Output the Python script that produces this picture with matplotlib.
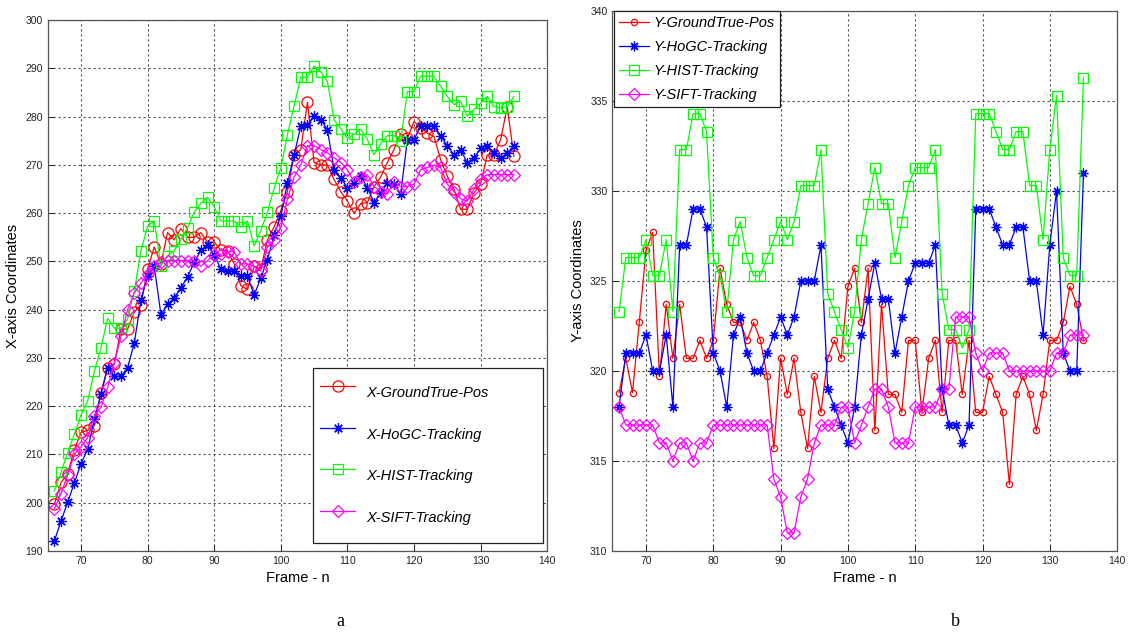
import matplotlib
matplotlib.use("Agg")
import matplotlib.pyplot as plt

plt.rcParams['font.family'] = ['Liberation Sans', 'DejaVu Sans']

frames = [66, 67, 68, 69, 70, 71, 72, 73, 74, 75, 76, 77, 78, 79, 80, 81, 82, 83, 84, 85,
          86, 87, 88, 89, 90, 91, 92, 93, 94, 95, 96, 97, 98, 99, 100, 101, 102, 103, 104, 105,
          106, 107, 108, 109, 110, 111, 112, 113, 114, 115, 116, 117, 118, 119, 120, 121, 122, 123, 124, 125,
          126, 127, 128, 129, 130, 131, 132, 133, 134, 135]

# ---- Panel a: X coordinates ----
x_ground = [199.7, 204.2, 206.0, 211.0, 214.6, 215.0, 216.0, 222.8, 228.0, 228.7,
            236.0, 236.0, 239.5, 241.0, 248.5, 253.0, 249.5, 256.0, 254.5, 256.8,
            255.0, 255.0, 256.0, 254.0, 254.0, 252.3, 252.2, 249.5, 245.0, 244.2,
            249.0, 248.5, 254.5, 257.2, 260.5, 264.5, 272.1, 273.2, 283.0, 270.5,
            270.0, 270.0, 267.0, 264.5, 262.5, 260.0, 262.0, 262.2, 265.5, 267.5,
            270.5, 273.2, 276.5, 275.5, 279.0, 277.7, 276.6, 275.9, 271.1, 267.7,
            265.0, 260.8, 260.8, 264.2, 266.0, 272.1, 272.1, 275.2, 282.0, 271.8]
x_hogc = [192.1, 196.2, 200.1, 204.1, 208.1, 211.1, 217.3, 222.5, 228.0, 226.2,
          226.2, 228.0, 233.1, 242.0, 247.0, 249.0, 239.0, 241.1, 242.5, 244.5,
          246.8, 249.8, 252.3, 253.4, 251.3, 248.5, 248.0, 248.0, 247.0, 247.0,
          243.0, 246.6, 250.4, 255.5, 259.4, 266.3, 272.1, 278.0, 278.2, 280.2,
          279.4, 277.3, 269.0, 267.3, 265.3, 266.3, 267.7, 265.3, 262.2, 264.2,
          266.3, 266.0, 264.0, 275.2, 275.2, 278.1, 278.1, 278.1, 276.0, 274.0,
          272.1, 273.2, 270.4, 271.4, 273.5, 274.0, 272.5, 271.4, 272.5, 274.0]
x_hist = [202.4, 206.3, 210.4, 214.2, 218.2, 221.1, 227.2, 232.1, 238.2, 236.2,
          236.2, 238.1, 243.8, 252.2, 257.3, 258.4, 249.1, 251.2, 252.2, 254.6,
          257.0, 260.2, 262.1, 263.3, 261.3, 258.4, 258.4, 258.4, 257.1, 258.4,
          253.2, 256.4, 260.2, 265.2, 269.4, 276.3, 282.3, 288.2, 288.2, 290.5,
          289.3, 287.3, 279.4, 277.5, 275.5, 276.4, 277.4, 275.3, 272.1, 274.4,
          276.1, 276.1, 274.9, 285.2, 285.2, 288.4, 288.4, 288.4, 286.3, 284.2,
          282.5, 283.2, 280.1, 281.5, 282.8, 284.2, 282.1, 281.8, 282.1, 284.2]
x_sift = [198.7, 201.9, 205.7, 210.1, 211.5, 213.5, 218.0, 219.8, 223.9, 229.0,
          234.5, 240.0, 243.5, 245.5, 247.5, 249.0, 249.8, 250.2, 250.2, 250.2,
          250.2, 250.2, 249.0, 250.2, 251.3, 251.5, 252.0, 252.0, 249.5, 249.5,
          249.0, 248.0, 253.0, 254.5, 257.0, 263.0, 267.5, 270.0, 274.0, 274.0,
          273.2, 272.5, 271.5, 270.5, 269.0, 266.5, 267.5, 268.0, 265.5, 264.5,
          264.0, 266.5, 265.5, 265.5, 266.0, 269.0, 269.5, 270.0, 269.5, 266.0,
          264.5, 263.0, 262.5, 265.0, 267.0, 268.0, 268.0, 268.0, 268.0, 268.0]

# ---- Panel b: Y coordinates ----
y_ground = [318.8, 320.7, 318.8, 322.7, 326.7, 327.7, 319.7, 323.7, 320.7, 323.7,
            320.7, 320.7, 321.7, 320.7, 321.7, 325.7, 323.7, 322.7, 322.7, 321.7,
            322.7, 321.7, 319.7, 315.7, 320.7, 318.7, 320.7, 317.7, 315.7, 319.7,
            317.7, 320.7, 321.7, 320.7, 324.7, 325.7, 322.7, 325.7, 316.7, 323.7,
            318.7, 318.7, 317.7, 321.7, 321.7, 317.7, 320.7, 321.7, 317.7, 321.7,
            321.7, 318.7, 321.7, 317.7, 317.7, 319.7, 318.7, 317.7, 313.7, 318.7,
            319.7, 318.7, 316.7, 318.7, 321.7, 321.7, 322.7, 324.7, 323.7, 321.7]
y_hogc = [318, 321, 321, 321, 322, 320, 320, 322, 318, 327,
          327, 329, 329, 328, 321, 320, 318, 322, 323, 321,
          320, 320, 321, 322, 323, 322, 323, 325, 325, 325,
          327, 319, 318, 317, 316, 318, 322, 324, 326, 324,
          324, 321, 323, 325, 326, 326, 326, 327, 319, 317,
          317, 316, 317, 329, 329, 329, 328, 327, 327, 328,
          328, 325, 325, 322, 327, 330, 321, 320, 320, 331]
y_hist = [323.3, 326.3, 326.3, 326.3, 327.3, 325.3, 325.3, 327.3, 323.3, 332.3,
          332.3, 334.3, 334.3, 333.3, 326.3, 325.3, 323.3, 327.3, 328.3, 326.3,
          325.3, 325.3, 326.3, 327.3, 328.3, 327.3, 328.3, 330.3, 330.3, 330.3,
          332.3, 324.3, 323.3, 322.3, 321.3, 323.3, 327.3, 329.3, 331.3, 329.3,
          329.3, 326.3, 328.3, 330.3, 331.3, 331.3, 331.3, 332.3, 324.3, 322.3,
          322.3, 321.3, 322.3, 334.3, 334.3, 334.3, 333.3, 332.3, 332.3, 333.3,
          333.3, 330.3, 330.3, 327.3, 332.3, 335.3, 326.3, 325.3, 325.3, 336.3]
y_sift = [318, 317, 317, 317, 317, 317, 316, 316, 315, 316,
          316, 315, 316, 316, 317, 317, 317, 317, 317, 317,
          317, 317, 317, 314, 313, 311, 311, 313, 314, 316,
          317, 317, 317, 318, 318, 316, 317, 318, 319, 319,
          318, 316, 316, 316, 318, 318, 318, 318, 319, 319,
          323, 323, 323, 321, 320, 321, 321, 321, 320, 320,
          320, 320, 320, 320, 320, 321, 321, 322, 322, 322]

labels_x = ['X-GroundTrue-Pos', 'X-HoGC-Tracking', 'X-HIST-Tracking', 'X-SIFT-Tracking']
labels_y = ['Y-GroundTrue-Pos', 'Y-HoGC-Tracking', 'Y-HIST-Tracking', 'Y-SIFT-Tracking']
colors = ['#ff0000', '#0000ff', '#00ff00', '#ff00ff']
star = (8, 2, 0)
markers = ['o', star, 's', 'D']

fig = plt.figure(figsize=(11.32, 6.35), dpi=100)
W, H = 1132.0, 635.0
axL = fig.add_axes([47.7 / W, 1 - 551 / H, 499.5 / W, 530.8 / H])
axR = fig.add_axes([612.35 / W, 1 - 551 / H, 504.75 / W, 540 / H])


def style_axes(ax):
    ax.grid(True, color='#222222', linestyle=(0, (2, 2.5)), linewidth=0.8, alpha=0.8)
    ax.set_axisbelow(True)
    for s in ax.spines.values():
        s.set_color('#555555')
        s.set_linewidth(0.9)
    ax.tick_params(direction='in', length=4, width=0.7, labelsize=7.5,
                   colors='#222222', top=False, right=False)
    ax.set_xlim(65, 140)
    ax.set_xticks([70, 80, 90, 100, 110, 120, 130, 140])
    ax.set_xlabel('Frame - n', fontsize=10.5, labelpad=4)


# Left panel
left_series = [x_ground, x_hogc, x_hist, x_sift]
left_ms = [8, 7.5, 7, 6]
handles = []
for vals, c, m, ms, lab in zip(left_series, colors, markers, left_ms, labels_x):
    ln, = axL.plot(frames, vals, color=c, marker=m, markersize=ms, markerfacecolor='none',
                   markeredgecolor=c, markeredgewidth=0.9, linewidth=0.9, label=lab)
    handles.append(ln)
style_axes(axL)
axL.set_ylim(190, 300)
axL.set_yticks(list(range(190, 301, 10)))
axL.set_ylabel('X-axis Coordinates', fontsize=10.5, labelpad=4)
legL = axL.legend(handles=handles, loc='lower left',
                  bbox_to_anchor=(0.531, 0.0151, 0.4605, 0.345), mode='expand',
                  borderaxespad=0, prop={'style': 'italic', 'size': 10.5},
                  borderpad=0.5, labelspacing=0.4, handleheight=3.4,
                  handlelength=2.4, handletextpad=0.75,
                  fancybox=False, framealpha=1, edgecolor='#222222')
legL.get_frame().set_linewidth(0.9)

# Right panel
right_series = [y_ground, y_hogc, y_hist, y_sift]
right_ms = [4.5, 7, 6.5, 6.5]
handles = []
for vals, c, m, ms, lab in zip(right_series, colors, markers, right_ms, labels_y):
    ln, = axR.plot(frames, vals, color=c, marker=m, markersize=ms, markerfacecolor='none',
                   markeredgecolor=c, markeredgewidth=0.9, linewidth=0.9, label=lab)
    handles.append(ln)
style_axes(axR)
axR.set_ylim(310, 340)
axR.set_yticks([310, 315, 320, 325, 330, 335, 340])
axR.set_ylabel('Y-axis Coordinates', fontsize=10.5, labelpad=4)
legR = axR.legend(handles=handles, loc='upper left', bbox_to_anchor=(0.003, 1.0),
                  borderaxespad=0, prop={'style': 'italic', 'size': 10.5},
                  borderpad=0.35, labelspacing=0.68, handlelength=2.05, handletextpad=0.3,
                  fancybox=False, framealpha=1, edgecolor='#222222')
legR.get_frame().set_linewidth(0.9)

fig.text(340 / W, 1 - 622 / H, 'a', ha='center', va='center', fontsize=13,
         family=['Liberation Serif', 'DejaVu Serif'])
fig.text(955 / W, 1 - 622 / H, 'b', ha='center', va='center', fontsize=13,
         family=['Liberation Serif', 'DejaVu Serif'])

fig.savefig('out.png', dpi=100)
